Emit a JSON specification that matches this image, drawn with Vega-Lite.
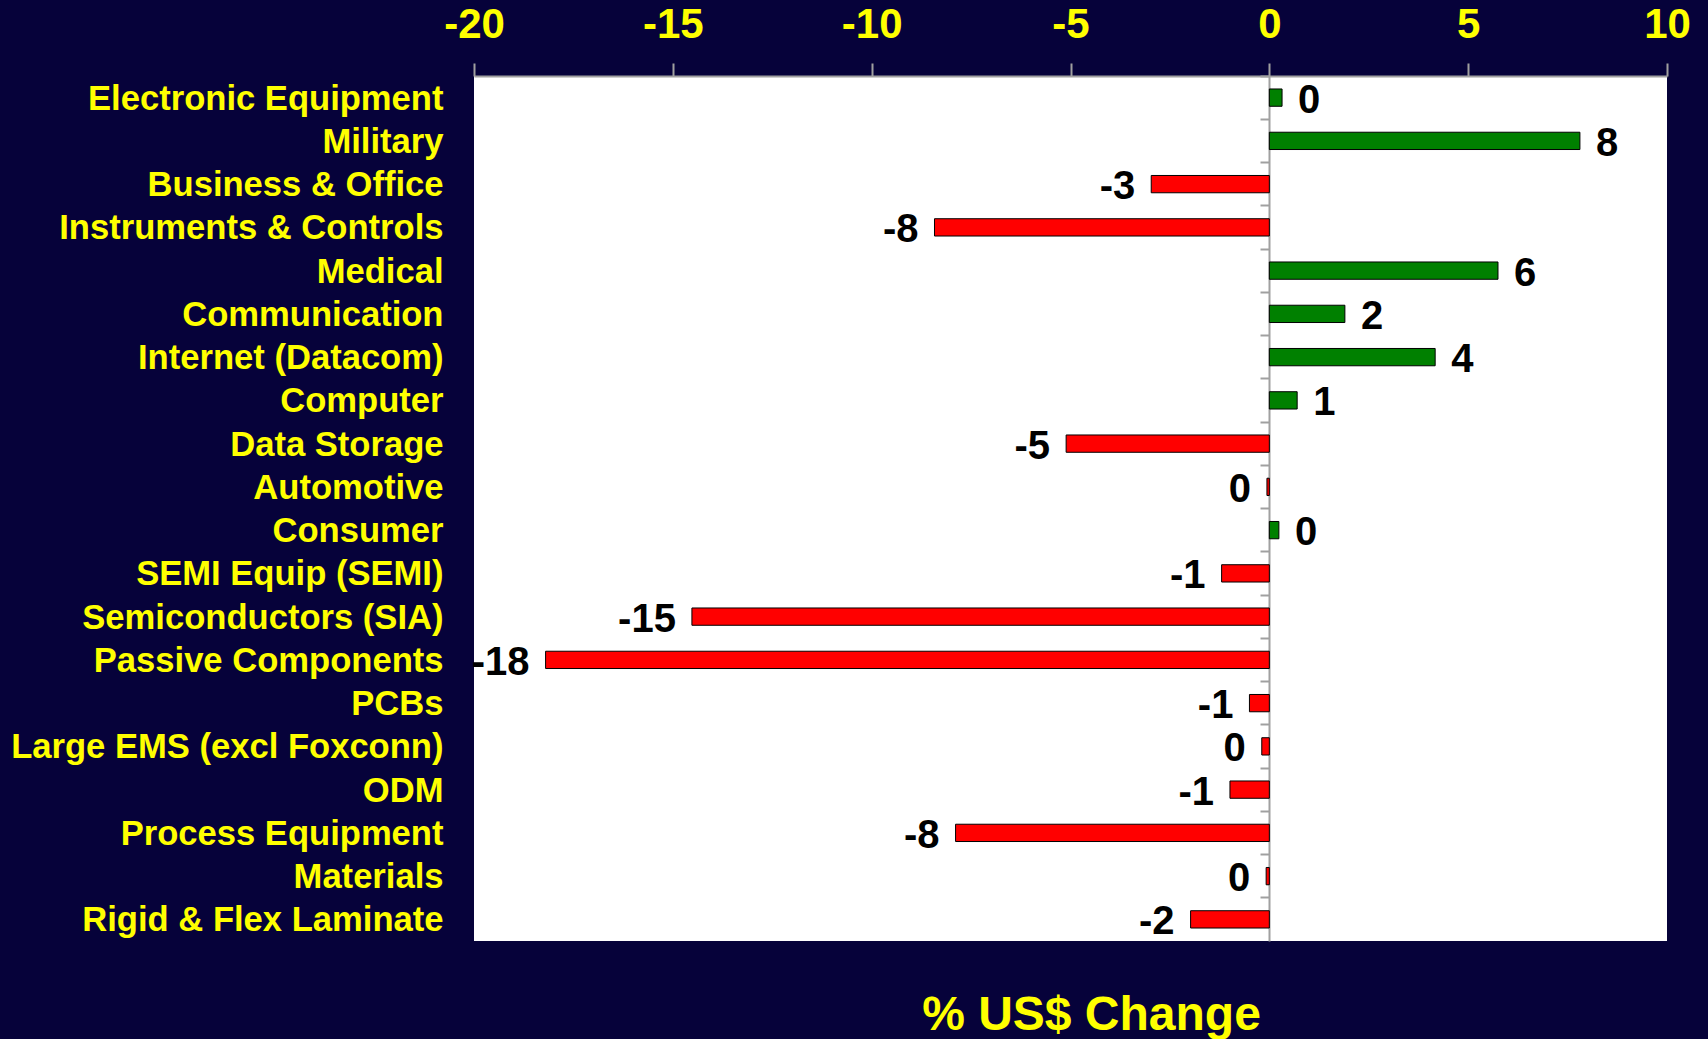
{
  "$schema": "https://vega.github.io/schema/vega-lite/v6.json",
  "width": 1193,
  "height": 865,
  "autosize": {"type": "none"},
  "padding": {"left": 474, "top": 76, "right": 41, "bottom": 98},
  "background": "#06023a",
  "config": {"view": {"fill": "#ffffff", "stroke": null}, "font": "Liberation Sans"},
  "title": {"text": "% US$ Change", "orient": "bottom", "frame": "group", "anchor": "middle", "fontSize": 48, "fontWeight": "bold", "color": "#ffff00", "font": "Liberation Sans", "offset": 50, "dx": 21},
  "data": {"values": [
    {"category": "Electronic Equipment", "value": 0.32, "label": "0"},
    {"category": "Military", "value": 7.81, "label": "8"},
    {"category": "Business & Office", "value": -2.97, "label": "-3"},
    {"category": "Instruments & Controls", "value": -8.42, "label": "-8"},
    {"category": "Medical", "value": 5.75, "label": "6"},
    {"category": "Communication", "value": 1.9, "label": "2"},
    {"category": "Internet (Datacom)", "value": 4.17, "label": "4"},
    {"category": "Computer", "value": 0.7, "label": "1"},
    {"category": "Data Storage", "value": -5.11, "label": "-5"},
    {"category": "Automotive", "value": -0.06, "label": "0"},
    {"category": "Consumer", "value": 0.24, "label": "0"},
    {"category": "SEMI Equip (SEMI)", "value": -1.2, "label": "-1"},
    {"category": "Semiconductors (SIA)", "value": -14.52, "label": "-15"},
    {"category": "Passive Components", "value": -18.2, "label": "-18"},
    {"category": "PCBs", "value": -0.5, "label": "-1"},
    {"category": "Large EMS (excl Foxconn)", "value": -0.19, "label": "0"},
    {"category": "ODM", "value": -0.99, "label": "-1"},
    {"category": "Process Equipment", "value": -7.89, "label": "-8"},
    {"category": "Materials", "value": -0.08, "label": "0"},
    {"category": "Rigid & Flex Laminate", "value": -1.98, "label": "-2"}
  ]},
  "encoding": {
    "x": {
      "field": "value", "type": "quantitative",
      "scale": {"domain": [-20, 10], "nice": false, "zero": false},
      "axis": {
        "orient": "top", "values": [-20, -15, -10, -5, 0, 5, 10], "grid": false,
        "domainColor": "#a0a0a0", "domainWidth": 2,
        "tickColor": "#a0a0a0", "tickWidth": 2, "tickSize": 13,
        "labelColor": "#ffff00", "labelFont": "Liberation Sans", "labelFontSize": 42, "labelFontWeight": "bold",
        "labelExpr": "replace(datum.label, '\u2212', '-')",
        "labelPadding": 17, "labelFlush": false, "labelOverlap": false, "title": null
      }
    }
  },
  "layer": [
    {
      "mark": {"type": "bar", "stroke": "#000000", "strokeWidth": 1},
      "encoding": {
        "y": {
          "field": "category", "type": "nominal", "sort": null,
          "scale": {"paddingInner": 0.6, "paddingOuter": 0.3},
          "axis": {
            "orient": "left", "domain": false, "ticks": false, "grid": false,
            "labelColor": "#ffff00", "labelFont": "Liberation Sans", "labelFontSize": 34.6, "labelFontWeight": "bold",
            "labelExpr": "datum.label == 'ODM' ? 'ODM\u00a0' : datum.label",
            "labelPadding": 31, "labelOffset": 2, "labelLimit": 1000, "title": null
          }
        },
        "color": {"condition": {"test": "datum.value < 0", "value": "#ff0000"}, "value": "#008000"}
      }
    },
    {
      "transform": [{"filter": "datum.value >= 0"}],
      "mark": {"type": "text", "align": "left", "baseline": "middle", "dx": 16, "dy": 3, "fontSize": 40, "fontWeight": "bold", "font": "Liberation Sans", "color": "#000000"},
      "encoding": {
        "y": {
          "field": "category", "type": "nominal", "sort": null,
          "axis": {
            "orient": "left", "offset": -795, "labels": false, "grid": false,
            "domainColor": "#a0a0a0", "domainWidth": 2,
            "tickColor": "#a0a0a0", "tickWidth": 2, "tickSize": 9, "bandPosition": -0.75, "title": null
          }
        },
        "text": {"field": "label"}
      }
    },
    {
      "transform": [{"filter": "datum.value < 0"}],
      "mark": {"type": "text", "align": "right", "baseline": "middle", "dx": -16, "dy": 3, "fontSize": 40, "fontWeight": "bold", "font": "Liberation Sans", "color": "#000000"},
      "encoding": {
        "y": {"field": "category", "type": "nominal", "sort": null, "axis": null},
        "text": {"field": "label"}
      }
    }
  ],
  "resolve": {"axis": {"y": "independent"}}
}
